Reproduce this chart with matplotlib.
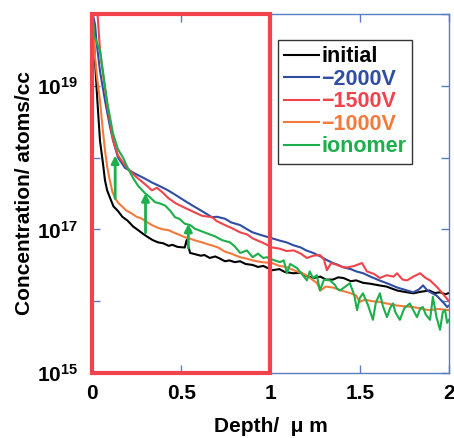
import matplotlib
matplotlib.use("Agg")
import matplotlib.pyplot as plt
from matplotlib.patches import Rectangle

plt.rcParams['font.family'] = ['Liberation Sans', 'DejaVu Sans']
plt.rcParams['font.weight'] = 'bold'
plt.rcParams['mathtext.fontset'] = 'custom'
plt.rcParams['mathtext.bf'] = 'Liberation Sans:bold'
plt.rcParams['mathtext.rm'] = 'Liberation Sans:bold'
plt.rcParams['mathtext.default'] = 'bf'

# ---- data (depth in um, concentration in atoms/cc) ----
depth_initial = [0.0, 0.008, 0.017, 0.03, 0.045, 0.06, 0.073, 0.085, 0.10, 0.12, 0.146, 0.17, 0.20,
                 0.23, 0.258, 0.28, 0.31, 0.34, 0.37, 0.40, 0.43, 0.45, 0.48, 0.52, 0.53, 0.55, 0.58,
                 0.61, 0.63, 0.66, 0.69, 0.71, 0.745, 0.77, 0.80, 0.83, 0.86, 0.90, 0.93, 0.96, 1.01,
                 1.05, 1.08, 1.13, 1.17, 1.20, 1.24, 1.28, 1.31, 1.35, 1.38, 1.41, 1.45, 1.48, 1.52,
                 1.56, 1.61, 1.65, 1.68, 1.71, 1.75, 1.80, 1.84, 1.89, 1.92, 1.95, 1.98, 2.0]
conc_initial = [1.6e20, 6.3e19, 2.2e19, 6.3e18, 1.7e18, 8.9e17, 4.8e17, 3.5e17, 2.8e17, 2.1e17, 1.8e17,
                1.5e17, 1.32e17, 1.1e17, 9.8e16, 8.9e16, 7.9e16, 7.1e16, 6.6e16, 6.4e16, 5.9e16, 6.1e16,
                5.7e16, 5.6e16, 7.1e16, 4.7e16, 4.5e16, 4.3e16, 4.4e16, 4.0e16, 4.2e16, 4.0e16, 3.6e16,
                3.7e16, 3.5e16, 3.6e16, 3.3e16, 3.2e16, 3.0e16, 3.1e16, 2.7e16, 2.8e16, 2.55e16, 2.45e16,
                2.5e16, 2.25e16, 2.1e16, 2.2e16, 2.0e16, 2.0e16, 2.15e16, 2.1e16, 1.9e16, 1.95e16, 1.8e16,
                1.75e16, 1.66e16, 1.6e16, 1.5e16, 1.41e16, 1.35e16, 1.29e16, 1.35e16, 1.41e16, 1.3e16,
                1.33e16, 1.25e16, 1.3e16]

depth_2000 = [0.0, 0.008, 0.017, 0.025, 0.045, 0.073, 0.10, 0.118, 0.146, 0.185, 0.24, 0.29, 0.336,
              0.38, 0.426, 0.47, 0.52, 0.57, 0.616, 0.672, 0.70, 0.745, 0.78, 0.83, 0.87, 0.90, 0.95,
              1.01, 1.05, 1.09, 1.13, 1.17, 1.20, 1.24, 1.28, 1.31, 1.35, 1.38, 1.41, 1.45, 1.48, 1.52,
              1.56, 1.61, 1.66, 1.71, 1.75, 1.80, 1.83, 1.855, 1.88, 1.93, 1.97, 1.99, 2.0]
conc_2000 = [1.6e20, 9.0e19, 7.2e19, 4.2e19, 1.6e19, 6.2e18, 2.75e18, 1.74e18, 1.0e18, 7.2e17, 6.0e17,
             5.2e17, 4.5e17, 4.0e17, 3.5e17, 3.0e17, 2.5e17, 2.1e17, 1.8e17, 1.48e17, 1.5e17, 1.41e17,
             1.25e17, 1.15e17, 1.0e17, 9.1e16, 8.3e16, 7.5e16, 7.0e16, 6.6e16, 6.0e16, 5.6e16, 5.1e16,
             4.7e16, 4.2e16, 3.8e16, 3.4e16, 3.2e16, 2.95e16, 2.8e16, 2.6e16, 2.45e16, 2.2e16, 1.95e16,
             1.75e16, 1.55e16, 1.45e16, 1.33e16, 1.45e16, 1.66e16, 1.4e16, 1.2e16, 9.5e15, 8.3e15, 8.7e15]

depth_1500 = [0.0, 0.03, 0.045, 0.067, 0.09, 0.118, 0.146, 0.185, 0.24, 0.30, 0.336, 0.364, 0.40, 0.426,
              0.47, 0.52, 0.57, 0.616, 0.672, 0.70, 0.745, 0.78, 0.83, 0.87, 0.90, 0.958, 1.01, 1.05,
              1.09, 1.13, 1.17, 1.204, 1.24, 1.277, 1.30, 1.316, 1.34, 1.373, 1.40, 1.43, 1.47, 1.513,
              1.54, 1.58, 1.613, 1.65, 1.69, 1.709, 1.74, 1.765, 1.80, 1.838, 1.87, 1.894, 1.93, 1.95,
              1.98, 2.0]
conc_1500 = [2.0e20, 1.1e20, 3.1e19, 1.17e19, 4.5e18, 1.74e18, 1.07e18, 7.8e17, 5.6e17, 4.2e17, 3.5e17,
             3.8e17, 3.2e17, 2.75e17, 2.3e17, 2.0e17, 1.75e17, 1.55e17, 1.48e17, 1.3e17, 1.15e17,
             1.05e17, 9.1e16, 8.5e16, 7.5e16, 6.5e16, 5.6e16, 5.4e16, 5.0e16, 5.1e16, 4.6e16, 4.0e16,
             4.3e16, 4.4e16, 3.8e16, 2.7e16, 3.4e16, 3.2e16, 3.0e16, 2.95e16, 3.1e16, 3.4e16, 2.6e16,
             2.4e16, 2.1e16, 2.3e16, 2.2e16, 2.45e16, 2.0e16, 1.95e16, 2.2e16, 2.45e16, 2.1e16, 1.95e16,
             1.6e16, 1.41e16, 1.15e16, 1.0e16]

depth_1000 = [0.0, 0.008, 0.017, 0.03, 0.045, 0.06, 0.073, 0.085, 0.10, 0.115, 0.13, 0.15, 0.168, 0.19,
              0.224, 0.25, 0.28, 0.30, 0.336, 0.37, 0.40, 0.426, 0.46, 0.49, 0.52, 0.55, 0.58, 0.616,
              0.65, 0.68, 0.706, 0.745, 0.78, 0.83, 0.87, 0.90, 0.95, 1.01, 1.05, 1.09, 1.13, 1.17,
              1.20, 1.24, 1.26, 1.28, 1.31, 1.35, 1.40, 1.45, 1.48, 1.50, 1.53, 1.57, 1.61, 1.66, 1.71,
              1.75, 1.80, 1.85, 1.89, 1.94, 2.0]
conc_1000 = [1.6e20, 6.0e19, 2.5e19, 1.2e19, 6.2e18, 2.5e18, 1.26e18, 7.5e17, 4.8e17, 3.3e17, 2.7e17,
             2.3e17, 2.1e17, 1.85e17, 1.66e17, 1.5e17, 1.41e17, 1.3e17, 1.15e17, 1.05e17, 1.0e17,
             9.8e16, 9.0e16, 8.4e16, 7.8e16, 7.4e16, 7.0e16, 6.6e16, 6.2e16, 5.9e16, 5.6e16, 4.9e16,
             4.6e16, 4.1e16, 3.9e16, 3.7e16, 3.5e16, 3.4e16, 3.1e16, 3.0e16, 2.7e16, 2.5e16, 2.3e16,
             1.95e16, 1.8e16, 1.41e16, 1.6e16, 1.55e16, 1.4e16, 1.29e16, 1.2e16, 9.8e15, 1.05e16,
             1.0e16, 9.8e15, 9.2e15, 8.7e15, 8.5e15, 8.3e15, 7.8e15, 7.5e15, 7.8e15, 7.5e15]

depth_ionomer = [0.0, 0.006, 0.012, 0.02, 0.03, 0.045, 0.084, 0.118, 0.146, 0.174, 0.20, 0.23, 0.26,
                 0.297, 0.325, 0.353, 0.38, 0.41, 0.44, 0.465, 0.49, 0.52, 0.55, 0.577, 0.61, 0.65,
                 0.69, 0.728, 0.773, 0.80, 0.83, 0.868, 0.90, 0.93, 0.96, 0.98, 1.01, 1.053, 1.075,
                 1.092, 1.11, 1.148, 1.17, 1.204, 1.22, 1.238, 1.26, 1.277, 1.30, 1.333, 1.36, 1.373,
                 1.389, 1.42, 1.445, 1.47, 1.485, 1.50, 1.518, 1.545, 1.574, 1.59, 1.613, 1.63, 1.653,
                 1.67, 1.686, 1.70, 1.725, 1.75, 1.781, 1.80, 1.821, 1.84, 1.854, 1.87, 1.894, 1.91,
                 1.93, 1.95, 1.965, 1.978, 1.99, 2.0]
conc_ionomer = [1.6e20, 7.9e19, 5.0e19, 4.5e19, 3.8e19, 3.1e19, 6.2e18, 2.15e18, 1.3e18, 1.0e18,
                7.2e17, 5.2e17, 4.0e17, 3.2e17, 2.8e17, 2.4e17, 2.3e17, 2.15e17, 1.8e17, 1.48e17,
                1.4e17, 1.2e17, 1.15e17, 1.02e17, 9.5e16, 8.7e16, 8.0e16, 7.1e16, 6.6e16, 5.8e16,
                4.7e16, 5.1e16, 4.1e16, 4.6e16, 4.0e16, 4.1e16, 3.8e16, 3.5e16, 3.7e16, 2.45e16,
                3.3e16, 2.9e16, 2.5e16, 1.95e16, 2.6e16, 2.1e16, 2.3e16, 1.41e16, 2.0e16, 1.95e16,
                1.7e16, 1.5e16, 1.41e16, 1.6e16, 1.78e16, 1.2e16, 7.5e15, 1.1e16, 1.29e16, 9.0e15,
                5.5e15, 9.5e15, 1.29e16, 8.5e15, 6.0e15, 8.0e15, 9.3e15, 7.0e15, 5.5e15, 8.0e15,
                9.3e15, 7.5e15, 6.0e15, 8.0e15, 8.3e15, 6.5e15, 5.5e15, 1.15e16, 6.0e15, 4.0e15,
                7.0e15, 7.5e15, 5.0e15, 5.5e15]

labels = ['initial', '\u22122000V', '\u22121500V', '\u22121000V', 'ionomer']
colors = ['#000000', '#2f4ea3', '#f0434b', '#f47a3c', '#1daf4b']

# green arrows: depth, from, to
arrow_depth = [0.13, 0.30, 0.54]
arrow_from = [2.7e17, 9.0e16, 5.5e16]
arrow_to = [1.07e18, 3.2e17, 1.2e17]

box_depth = (0.0, 1.0)
spine_col = '#5a7dc2'

fig = plt.figure(figsize=(4.54, 4.38), dpi=100)
ax = fig.add_axes([0.2026, 0.1484, 0.7863, 0.8196])

series = [(depth_initial, conc_initial), (depth_2000, conc_2000), (depth_1500, conc_1500),
          (depth_1000, conc_1000), (depth_ionomer, conc_ionomer)]
for (d, c), lab, col in zip(series, labels, colors):
    ax.plot(d, c, color=col, lw=1.5, label=lab)

ax.set_yscale('log')
ax.set_xlim(0, 2)
ax.set_ylim(1e15, 1e20)

for x, y0, y1 in zip(arrow_depth, arrow_from, arrow_to):
    ax.annotate('', xy=(x, y1), xytext=(x, y0),
                arrowprops=dict(arrowstyle='-|>', color=colors[4], lw=2, mutation_scale=11,
                                shrinkA=0, shrinkB=0))

ax.add_patch(Rectangle((box_depth[0], 1e15), box_depth[1] - box_depth[0], 1e20 - 1e15,
                       fill=False, ec='#f0434b', lw=3, clip_on=False, zorder=6))

ax.set_xticks([0, 0.5, 1, 1.5, 2])
ax.set_xticklabels(['0', '0.5', '1', '1.5', '2'])
ax.set_yticks([1e15, 1e16, 1e17, 1e18, 1e19, 1e20])
ax.set_yticklabels(['$10^{15}$', '', '$10^{17}$', '', '$10^{19}$', ''])
ax.yaxis.set_minor_locator(matplotlib.ticker.NullLocator())
ax.tick_params(direction='in', length=6, width=1, color=spine_col, top=True, right=True,
               labelsize=15)
ax.tick_params(axis='y', pad=10)
ax.tick_params(axis='x', pad=8)
for s in ax.spines.values():
    s.set_color(spine_col)
    s.set_linewidth(1)

ax.set_xlabel('Depth/  μ m', fontsize=15, fontweight='bold', labelpad=10)
ax.set_ylabel('Concentration/ atoms/cc', fontsize=15, fontweight='bold', labelpad=2)

leg = ax.legend(loc='upper left', bbox_to_anchor=(0.521, 0.928), fontsize=15.5, frameon=True,
                fancybox=False, edgecolor='black', handlelength=1.6, handletextpad=0.1,
                labelspacing=0.07, borderpad=0.3, borderaxespad=0)
leg.get_frame().set_linewidth(1)
for t, col in zip(leg.get_texts(), colors):
    t.set_color(col)
    t.set_fontweight('bold')

fig.savefig('out.png', dpi=100)
